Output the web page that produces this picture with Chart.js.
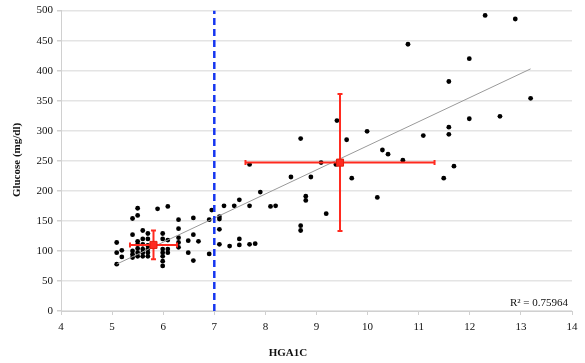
<!DOCTYPE html>
<html>
<head>
<meta charset="utf-8">
<script src="https://cdn.jsdelivr.net/npm/chart.js@4.4.0/dist/chart.umd.min.js"></script>
<style>
  html, body { margin: 0; padding: 0; background: #fff; }
  #wrap { width: 585px; height: 363px; }
</style>
</head>
<body>
<div id="wrap"><canvas id="chart"></canvas></div>
<script>
// patients: HbA1c vs glucose
const hga1c = [
  5.09, 5.09, 5.09, 5.19, 5.19,
  5.40, 5.40, 5.40, 5.40, 5.40,
  5.50, 5.50, 5.50, 5.50, 5.50, 5.50, 5.50,
  5.60, 5.60, 5.60, 5.60, 5.60, 5.60,
  5.70, 5.70, 5.70, 5.70, 5.70, 5.70,
  5.89,
  5.99, 5.99, 5.99, 5.99, 5.99, 5.99, 5.99,
  6.09, 6.09, 6.09, 6.09,
  6.30, 6.30, 6.30, 6.30, 6.30,
  6.49, 6.49, 6.59, 6.59, 6.59, 6.69,
  6.90, 6.90, 6.95,
  7.10, 7.10, 7.10, 7.10, 7.19, 7.30, 7.39,
  7.49, 7.49, 7.49, 7.69, 7.69, 7.69, 7.80, 7.90,
  8.10, 8.20, 8.50, 8.69, 8.69, 8.69, 8.79, 8.79, 8.89,
  9.09, 9.19, 9.38, 9.40, 9.59, 9.69, 9.99,
  10.19, 10.29, 10.40, 10.69, 10.79, 11.09, 11.49,
  11.59, 11.59, 11.59, 11.69, 11.99, 11.99,
  12.30, 12.59, 12.89, 13.19
];
const glucose = [
  114, 97, 78, 101, 90,
  154, 127, 100, 94, 89,
  171, 159, 116, 111, 104, 97, 91,
  134, 120, 111, 103, 97, 91,
  129, 120, 109, 103, 97, 91,
  170,
  129, 120, 103, 97, 91, 83, 75,
  174, 118, 103, 97,
  152, 137, 122, 114, 106,
  117, 97, 155, 127, 84, 116,
  152, 95, 168,
  157, 153, 136, 111, 175, 108, 175,
  185, 120, 110, 244, 175, 111, 112, 198,
  174, 175, 223, 287, 142, 134, 191, 184, 223,
  247, 162, 244, 317, 285, 221, 299,
  189, 268, 261, 251, 444, 292, 221,
  382, 306, 294, 241, 420, 320,
  492, 324, 486, 354
];

// group means and standard deviations (below / above 7)
const meanX = [5.81, 9.46];
const meanY = [110, 247];
const sdX = [0.46, 1.85];
const sdY = [24, 114];

// linear trend end points
const trendX = [5.09, 13.19];
const trendY = [78, 403];
const r2Label = 'R\u00B2 = 0.75964';

const cutoff = 7;

const xTicks = [4, 14, 1];
const yTicks = [0, 500, 50];

const serif = "'Liberation Serif', 'Times New Roman', serif";
const red = '#ff2a1f';

const points = hga1c.map((x, i) => ({ x: x, y: glucose[i] }));

const errorSets = [];
meanX.forEach((mx, i) => {
  errorSets.push({
    data: [{ x: mx - sdX[i], y: meanY[i] }, { x: mx + sdX[i], y: meanY[i] }],
    showLine: true, borderColor: red, borderWidth: 2,
    pointStyle: 'line', pointRotation: 90, pointRadius: 2.5,
    pointBorderColor: red, pointBorderWidth: 2, order: 2
  });
  errorSets.push({
    data: [{ x: mx, y: meanY[i] - sdY[i] }, { x: mx, y: meanY[i] + sdY[i] }],
    showLine: true, borderColor: red, borderWidth: 2,
    pointStyle: 'line', pointRotation: 0, pointRadius: 2.5,
    pointBorderColor: red, pointBorderWidth: 2, order: 2
  });
});

const textPlugin = {
  id: 'texts',
  afterDraw(chart) {
    const ctx = chart.ctx;
    ctx.save();
    ctx.fillStyle = '#111';
    ctx.font = 'bold 11px ' + serif;
    ctx.textAlign = 'center';
    ctx.textBaseline = 'middle';
    ctx.fillText('HGA1C', 288, 353);
    ctx.translate(17, 160);
    ctx.rotate(-Math.PI / 2);
    ctx.fillText('Glucose (mg/dl)', 0, 0);
    ctx.restore();

    ctx.save();
    ctx.fillStyle = '#111';
    ctx.font = '11px ' + serif;
    ctx.textAlign = 'right';
    ctx.textBaseline = 'middle';
    ctx.fillText(r2Label, 568, 303);
    ctx.restore();
  }
};

new Chart(document.getElementById('chart'), {
  type: 'scatter',
  data: {
    datasets: [
      {
        data: meanX.map((x, i) => ({ x: x, y: meanY[i] })),
        pointStyle: 'rect', pointRadius: 5, pointHoverRadius: 5,
        backgroundColor: red, borderColor: '#e0200f', borderWidth: 1, order: 1
      },
      ...errorSets,
      {
        data: [{ x: cutoff, y: yTicks[0] }, { x: cutoff, y: yTicks[1] }],
        showLine: true, borderColor: '#1636f0', borderWidth: 2.5,
        borderDash: [7, 4], pointRadius: 0, order: 3
      },
      {
        data: trendX.map((x, i) => ({ x: x, y: trendY[i] })),
        showLine: true, borderColor: '#9a9a9a', borderWidth: 1,
        pointRadius: 0, order: 4
      },
      {
        data: points,
        pointRadius: 2.4, pointHoverRadius: 2.4,
        backgroundColor: '#000', borderColor: '#000', borderWidth: 0, order: 5
      }
    ]
  },
  options: {
    responsive: true,
    maintainAspectRatio: false,
    animation: false,
    layout: { padding: { top: 8, right: 13, left: 0, bottom: 0 } },
    plugins: {
      legend: { display: false },
      tooltip: { enabled: false }
    },
    scales: {
      x: {
        min: xTicks[0], max: xTicks[1],
        ticks: { stepSize: xTicks[2], color: '#111', font: { family: serif, size: 11 }, padding: 6, maxRotation: 0 },
        grid: { drawOnChartArea: false, tickLength: 4, tickColor: '#d0d0d0', lineWidth: 1 },
        border: { color: '#d0d0d0', width: 1 },
        afterFit(scale) { scale.height = 52; }
      },
      y: {
        min: yTicks[0], max: yTicks[1],
        ticks: { stepSize: yTicks[2], color: '#111', font: { family: serif, size: 11 }, padding: 4 },
        grid: { color: '#e4e4e4', lineWidth: 1.5, tickLength: 4, tickColor: '#d0d0d0' },
        border: { color: '#d0d0d0', width: 1 },
        afterFit(scale) { scale.width = 61; }
      }
    }
  },
  plugins: [textPlugin]
});
</script>
</body>
</html>
